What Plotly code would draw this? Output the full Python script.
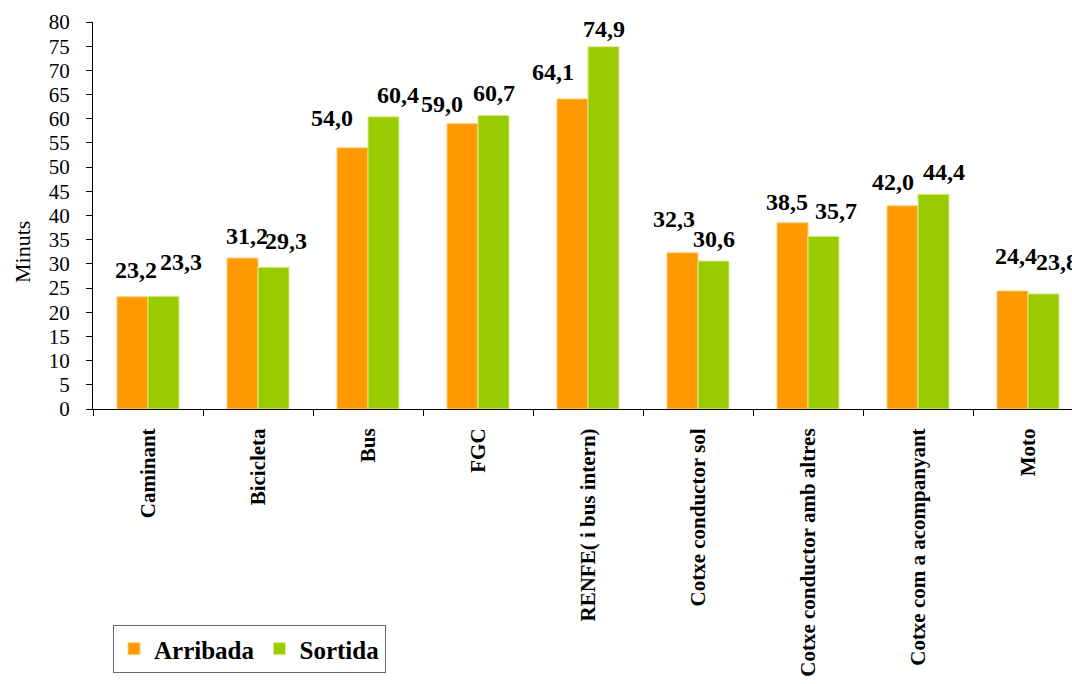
import plotly.graph_objects as go

categories = ["Caminant", "Bicicleta", "Bus", "FGC", "RENFE( i bus intern)",
              "Cotxe conductor sol", "Cotxe conductor amb altres",
              "Cotxe com a acompanyant", "Moto"]
arribada = [23.2, 31.2, 54.0, 59.0, 64.1, 32.3, 38.5, 42.0, 24.4]
sortida = [23.3, 29.3, 60.4, 60.7, 74.9, 30.6, 35.7, 44.4, 23.8]
y_ticks = list(range(0, 81, 5))

# label placement (pixel nudges of the data labels, as in the source chart)
arr_dx = [4, 5, -20, -20, -19, -8, -5, -9, 4]
arr_dy = [27, 22, 30, 20, 27, 34, 21, 24, 35]
sor_dx = [17, 12, 14, 0, 0, 0, 12, 10, 13]
sor_dy = [34, 26, 22, 22, 18, 22, 25, 22, 32]

FONT = "Times New Roman, Liberation Serif, serif"
ORANGE = "#FF9900"
GREEN = "#99CC00"

fig = go.Figure()
fig.add_trace(go.Bar(name="<b>Arribada</b>", x=categories, y=arribada,
                     marker=dict(color=ORANGE, line=dict(color="#FFD080", width=1))))
fig.add_trace(go.Bar(name="<b>Sortida</b>", x=categories, y=sortida,
                     marker=dict(color=GREEN, line=dict(color="#D8EE90", width=1))))

half = (1 - 0.436) / 4
annotations = []
for i, (a, s) in enumerate(zip(arribada, sortida)):
    for val, off, dx, dy in ((a, -half, arr_dx[i], arr_dy[i]), (s, half, sor_dx[i], sor_dy[i])):
        annotations.append(dict(
            x=i + off, y=val, xref="x", yref="y",
            text="<b>" + f"{val:.1f}".replace(".", ",") + "</b>",
            showarrow=False, xshift=dx, yshift=dy, yanchor="middle",
            font=dict(family=FONT, size=24, color="black")))

annotations.append(dict(
    x=(22 - 93) / 979, y=(409 - 252) / 387, xref="paper", yref="paper",
    xanchor="center", yanchor="middle",
    text="Minuts", showarrow=False, textangle=-90,
    font=dict(family=FONT, size=22, color="black")))

fig.update_layout(
    width=1072, height=684,
    margin=dict(l=93, r=0, t=22, b=275, autoexpand=False),
    paper_bgcolor="white", plot_bgcolor="white",
    barmode="group", bargap=0.436, bargroupgap=0,
    font=dict(family=FONT, color="black"),
    annotations=annotations,
    showlegend=True,
    legend=dict(orientation="h", x=(113 - 93) / 979, y=(409 - 625) / 387,
                xanchor="left", yanchor="top",
                bordercolor="#666666", borderwidth=1, bgcolor="white",
                font=dict(family=FONT, size=25, color="black"),
                itemwidth=30, tracegroupgap=0),
    xaxis=dict(
        range=[-0.5, 8.4], type="category",
        showline=True, linecolor="black", linewidth=1,
        ticks="outside", tickson="boundaries", ticklen=6, tickcolor="black",
        tickangle=-90, ticklabelstandoff=10,
        tickvals=categories, ticktext=["<b>" + c + "</b>" for c in categories],
        tickfont=dict(family=FONT, size=21, color="black"),
        showgrid=False, zeroline=False, fixedrange=True),
    yaxis=dict(
        range=[0, 80], tickvals=y_ticks, ticktext=[str(v) for v in y_ticks],
        showline=True, linecolor="black", linewidth=1,
        ticks="outside", ticklen=6, tickcolor="black", ticklabelstandoff=12,
        tickfont=dict(family=FONT, size=21, color="black"),
        showgrid=False, zeroline=False, fixedrange=True),
)

fig.write_html("out.html", config={"displayModeBar": False})
